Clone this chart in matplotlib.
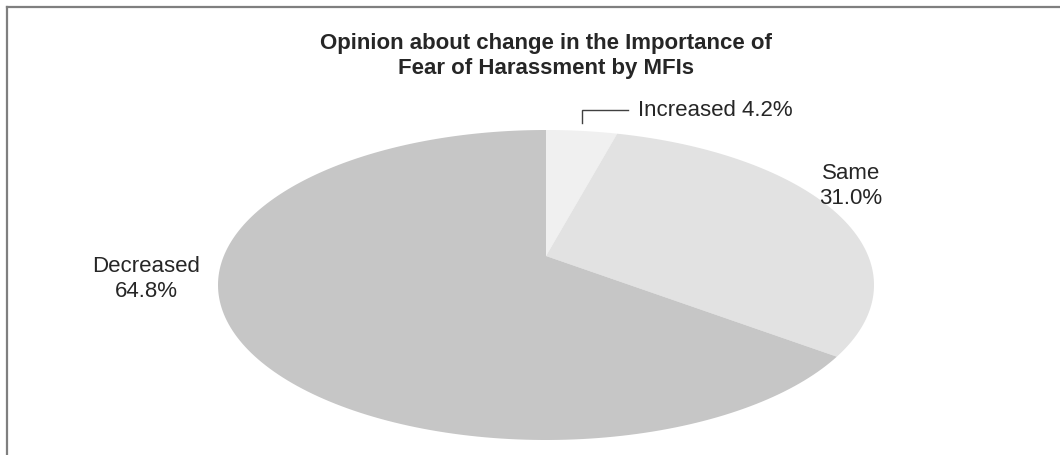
import numpy as np
import matplotlib.pyplot as plt
from matplotlib.lines import Line2D

plt.rcParams['font.family'] = ['Liberation Sans', 'DejaVu Sans']

categories = ['Increased', 'Same', 'Decreased']
shares = [4.2, 31.0, 64.8]
colors = ['#f0f0f0', '#e2e2e2', '#c6c6c6']
title = 'Opinion about change in the Importance of\nFear of Harassment by MFIs'

W, H = 1060, 455

# tilted pie: a flat disc seen in perspective (pixel units)
cx, cy = 546, 285      # centre of the visible ellipse
half_h = 155           # vertical half size of the ellipse
lift = 29              # how far the disc centre sits above the ellipse centre
k = lift / half_h
half_w = 328 * np.sqrt(1 - k ** 2)


def project(u, v):
    # u across, v into the screen (v = 1 is the far edge)
    den = 1 + k * v
    x = cx + half_w * u / den
    y = cy - (half_h * v + lift) / den
    return x, y


fig = plt.figure(figsize=(W / 100, H / 100), dpi=100)
ax = fig.add_axes([0, 0, 1, 1])
ax.set_xlim(0, W)
ax.set_ylim(H, 0)
ax.axis('off')

# wedges run clockwise from 12 o'clock
edges = np.concatenate([[0], np.cumsum(shares)]) / np.sum(shares) * 2 * np.pi
for i in range(len(shares)):
    t = np.linspace(edges[i], edges[i + 1], 200)
    u = np.concatenate([[0], np.sin(t)])
    v = np.concatenate([[0], np.cos(t)])
    px, py = project(u, v)
    ax.fill(px, py, color=colors[i], lw=0)

# frame lines on top and left
fig.add_artist(Line2D([7 / W, 1], [1 - 7 / H, 1 - 7 / H], color='#7f7f7f', lw=1.6))
fig.add_artist(Line2D([7 / W, 7 / W], [0, 1 - 7 / H], color='#7f7f7f', lw=1.6))

ax.text(cx, 56, title, ha='center', va='center', fontsize=16,
        fontweight='bold', color='#262626', linespacing=1.2)

labels = ['%s %.1f%%' % (categories[0], shares[0]),
          '%s\n%.1f%%' % (categories[1], shares[1]),
          '%s\n%.1f%%' % (categories[2], shares[2])]

ax.text(638, 110, labels[0], ha='left', va='center', fontsize=16, color='#262626')
ax.text(851, 186, labels[1], ha='center', va='center', fontsize=16,
        color='#262626', linespacing=1.2)
ax.text(146, 279, labels[2], ha='center', va='center', fontsize=16,
        color='#262626', linespacing=1.2)

# leader line for the small slice
ax.plot([582, 582, 628], [123, 110, 110], color='#404040', lw=1.0,
        solid_joinstyle='miter')

fig.savefig('out.png', dpi=100, facecolor='white')
